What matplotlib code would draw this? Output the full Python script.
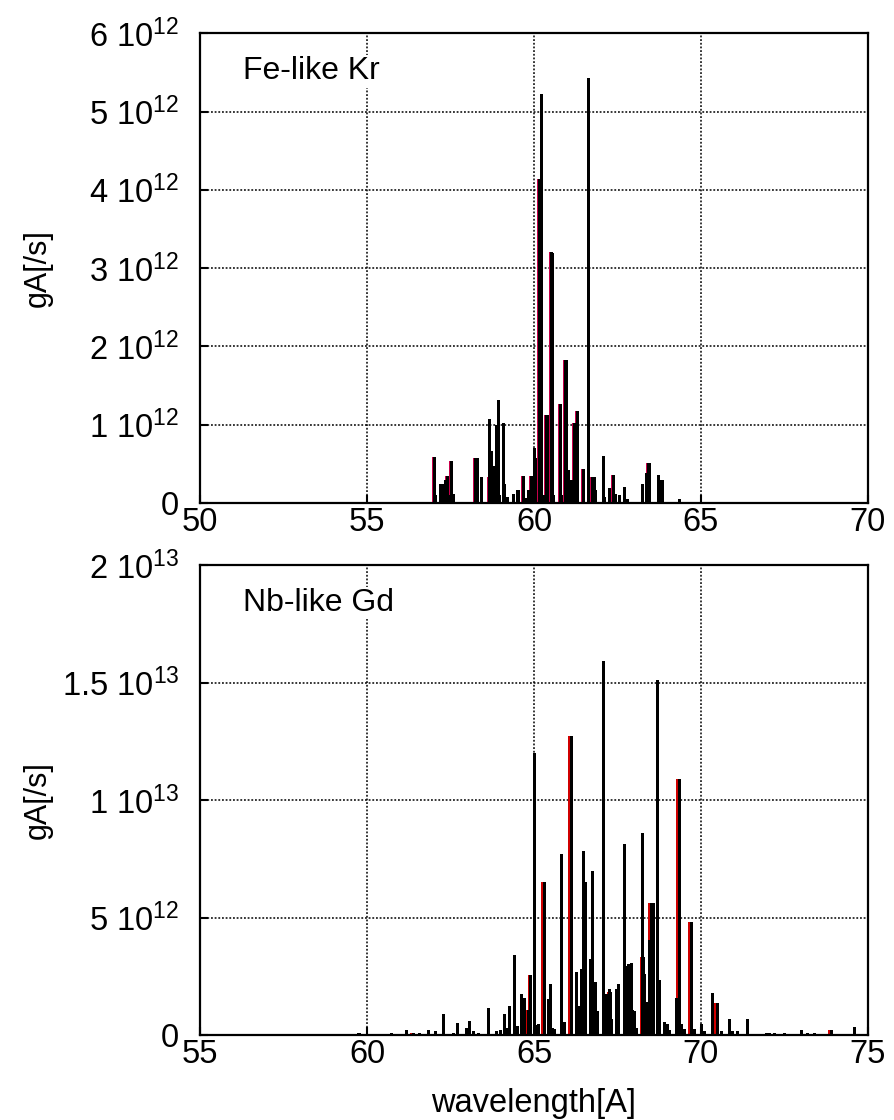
import numpy as np
import matplotlib
matplotlib.use('Agg')
import matplotlib.pyplot as plt
from matplotlib.ticker import FuncFormatter, MultipleLocator

plt.rcParams['font.family'] = ['Liberation Sans', 'DejaVu Sans']
plt.rcParams['mathtext.fontset'] = 'custom'
plt.rcParams['mathtext.rm'] = 'Liberation Sans'
plt.rcParams['mathtext.it'] = 'Liberation Sans:italic'

# Fe-like Kr, wavelength [A] and gA [1e12 /s]
kr_wl = [57.01, 57.05, 57.21, 57.25, 57.34, 57.40, 57.48, 57.54, 57.60,
         58.26, 58.30, 58.43, 58.66, 58.70, 58.73, 58.80, 58.88, 58.95, 58.98,
         59.08, 59.13, 59.20, 59.38, 59.50, 59.55, 59.68, 59.75, 59.83, 59.93,
         60.01, 60.05, 60.16, 60.21, 60.28, 60.36, 60.40, 60.51, 60.55, 60.58,
         60.78, 60.83, 60.93, 60.97, 61.03, 61.13, 61.20, 61.30, 61.48, 61.63,
         61.76, 61.80, 61.85, 62.08, 62.12, 62.27, 62.37, 62.45, 62.55, 62.70,
         62.80, 63.25, 63.37, 63.42, 63.47, 63.72, 63.82, 63.85, 64.35]
kr_ga = [0.59, 0.10, 0.24, 0.24, 0.29, 0.35, 0.10, 0.54, 0.12,
         0.57, 0.57, 0.33, 1.07, 0.33, 0.66, 0.47, 0.99, 1.32, 0.10,
         1.02, 0.24, 0.08, 0.12, 0.17, 0.17, 0.35, 0.06, 0.17, 0.35,
         0.70, 0.57, 4.14, 5.22, 0.10, 1.13, 1.13, 3.21, 3.19, 0.10,
         1.26, 0.10, 1.83, 1.83, 0.42, 0.29, 1.02, 1.17, 0.44, 5.43,
         0.33, 0.33, 0.17, 0.60, 0.08, 0.19, 0.36, 0.12, 0.10, 0.21,
         0.05, 0.24, 0.38, 0.51, 0.51, 0.36, 0.29, 0.29, 0.05]
# second (red) set of lines for Kr
kr_wl_red = [56.98, 57.37, 57.51, 58.23, 58.63, 59.65, 59.90, 60.13, 60.33,
             60.48, 60.75, 60.90, 61.17, 61.27, 61.45, 61.73, 62.34, 63.39]
kr_ga_red = [0.59, 0.35, 0.54, 0.57, 0.33, 0.35, 0.35, 4.14, 1.13,
             3.21, 1.26, 1.83, 1.02, 1.17, 0.44, 0.33, 0.36, 0.51]

# Nb-like Gd, wavelength [A] and gA [1e12 /s]
gd_wl = [59.76, 60.72, 61.17, 61.38, 61.56, 61.84, 62.04, 62.29, 62.60, 62.71,
         62.97, 63.05, 63.08, 63.20, 63.35, 63.63, 63.89, 64.00, 64.11, 64.20,
         64.28, 64.43, 64.50, 64.63, 64.73, 64.83, 64.91, 65.01, 65.08, 65.12,
         65.30, 65.43, 65.50, 65.55, 65.60, 65.81, 65.91, 66.13, 66.26, 66.36,
         66.43, 66.48, 66.50, 66.55, 66.68, 66.75, 66.83, 66.86, 66.90, 67.08,
         67.18, 67.25, 67.28, 67.32, 67.48, 67.52, 67.72, 67.79, 67.84, 67.92,
         67.96, 68.00, 68.06, 68.25, 68.27, 68.30, 68.39, 68.45, 68.52, 68.57,
         68.69, 68.75, 68.90, 69.00, 69.05, 69.27, 69.37, 69.42, 69.50, 69.72,
         69.80, 70.02, 70.10, 70.34, 70.50, 70.60, 70.85, 70.95, 71.10, 71.39,
         71.95, 72.05, 72.20, 72.50, 73.00, 73.20, 73.40, 73.90, 74.60]
gd_ga = [0.10, 0.10, 0.20, 0.10, 0.10, 0.20, 0.17, 0.90, 0.10, 0.50,
         0.30, 0.17, 0.60, 0.17, 0.10, 1.15, 0.17, 0.20, 0.88, 0.30,
         1.25, 3.40, 0.40, 1.75, 1.56, 1.06, 2.55, 12.0, 0.42, 0.45,
         6.51, 1.55, 2.15, 0.30, 0.25, 7.72, 0.55, 12.74, 2.68, 1.25,
         2.80, 7.82, 1.00, 6.51, 3.25, 7.00, 2.25, 0.70, 1.00, 15.9,
         1.75, 1.95, 1.85, 0.70, 1.95, 2.15, 8.14, 2.95, 3.00, 3.05,
         1.06, 1.00, 0.30, 8.61, 3.33, 2.60, 1.42, 4.05, 5.62, 5.62,
         15.1, 2.34, 0.55, 0.45, 0.20, 1.56, 10.9, 0.45, 0.25, 4.81,
         0.25, 0.45, 0.15, 1.80, 1.35, 0.15, 0.66, 0.15, 0.15, 0.66,
         0.10, 0.10, 0.10, 0.10, 0.20, 0.10, 0.10, 0.20, 0.35]
# second (red) set of lines for Gd
gd_wl_red = [61.35, 64.69, 64.79, 64.87, 65.26, 66.08, 66.46, 66.86, 67.24,
             67.92, 68.23, 68.48, 68.53, 69.32, 69.68, 70.46, 73.86]
gd_ga_red = [0.10, 1.56, 1.06, 2.55, 6.51, 12.74, 1.00, 1.00, 1.85,
             1.06, 3.33, 5.62, 4.00, 10.9, 4.81, 1.35, 0.20]


def sci_label(v, pos):
    if v == 0:
        return '0'
    e = int(np.floor(np.log10(abs(v)) + 1e-9))
    m = v / 10 ** e
    return f'{m:g} 10$^{{{e}}}$'


fig = plt.figure(figsize=(8.95, 11.2), dpi=100)
ax1 = fig.add_axes([0.2235, 0.5509, 0.7463, 0.4194])
ax2 = fig.add_axes([0.2235, 0.0759, 0.7463, 0.4196])

panels = [
    (ax1, kr_wl, kr_ga, kr_wl_red, kr_ga_red, (50, 70), 6e12, 1e12, 'Fe-like Kr', '#c8004a', 0.09),
    (ax2, gd_wl, gd_ga, gd_wl_red, gd_ga_red, (55, 75), 2e13, 5e12, 'Nb-like Gd', '#d00000', 0.12),
]

for ax, wl, ga, wl_r, ga_r, xlim, ymax, ystep, name, red, rw in panels:
    ax.bar(wl_r, np.array(ga_r) * 1e12, width=rw, color=red, linewidth=0, zorder=2)
    ax.bar(wl, np.array(ga) * 1e12, width=0.09, color='black', linewidth=0, zorder=3)
    ax.set_xlim(*xlim)
    ax.set_ylim(0, ymax)
    ax.xaxis.set_major_locator(MultipleLocator(5))
    ax.yaxis.set_major_locator(MultipleLocator(ystep))
    ax.yaxis.set_major_formatter(FuncFormatter(sci_label))
    ax.grid(True, color='black', linestyle=(0, (1.2, 1.2)), linewidth=1.1, zorder=1)
    ax.set_axisbelow(True)
    for s in ax.spines.values():
        s.set_linewidth(1.6)
        s.set_zorder(4)
    ax.tick_params(direction='in', length=6, width=1.5, labelsize=23.5,
                   top=False, right=False)
    ax.tick_params(axis='y', pad=15)
    ax.tick_params(axis='x', pad=3)
    ax.set_ylabel('gA[/s]', fontsize=22)
    ax.yaxis.set_label_coords(-0.22, 0.5)
    ax.text(0.064, 0.919, name, transform=ax.transAxes, fontsize=23,
            va='center', ha='left', zorder=5,
            bbox=dict(facecolor='white', edgecolor='none', pad=1))

ax2.set_xlabel('wavelength[A]', fontsize=23.5, labelpad=13)

fig.savefig('out.png', dpi=100)
